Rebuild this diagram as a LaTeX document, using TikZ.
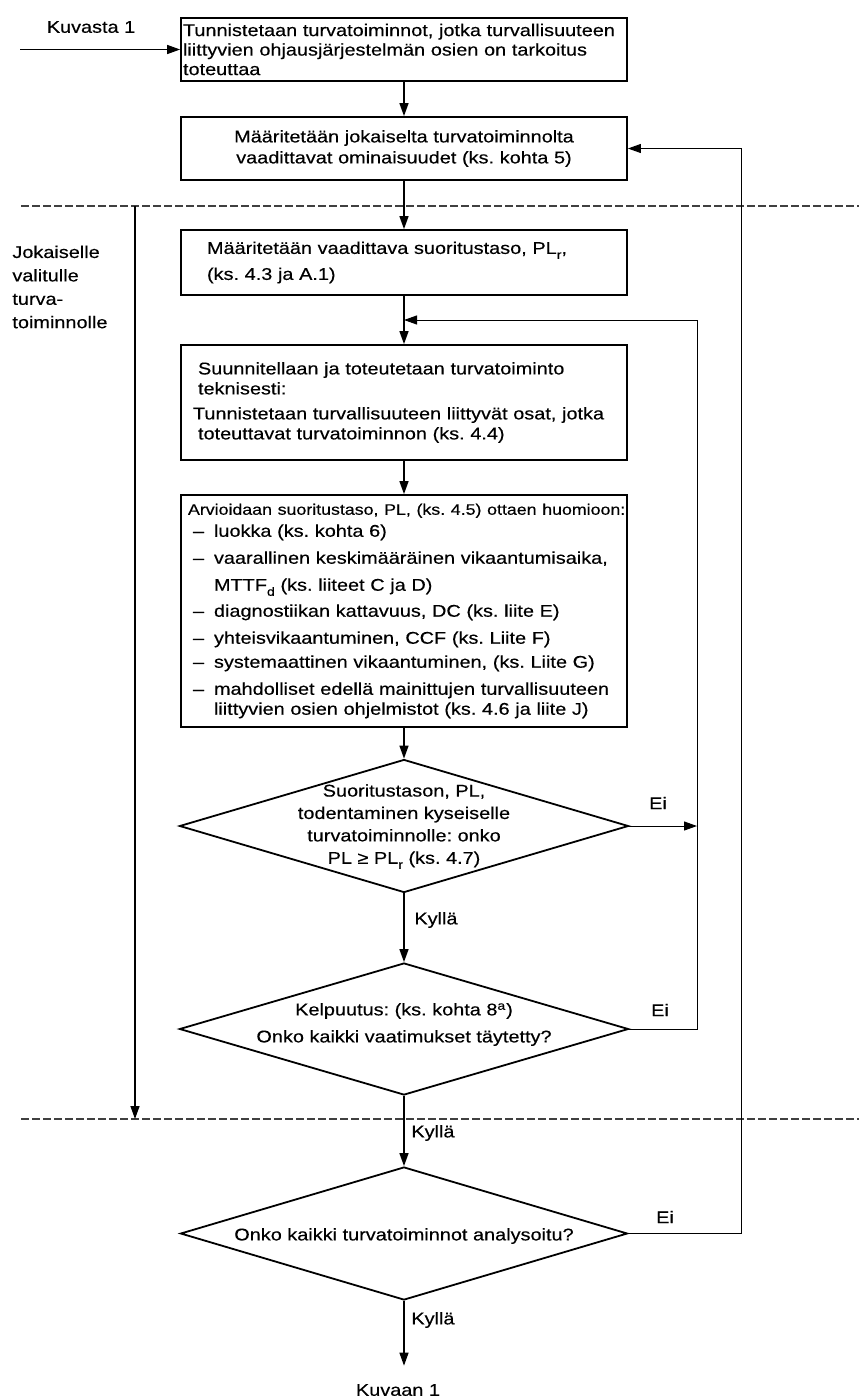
\documentclass[tikz,border=0pt]{standalone}
\usepackage{fontspec}
\setmainfont{Liberation Sans}[FakeStretch=1.17, FakeBold=0.35]
\usetikzlibrary{arrows.meta,shapes.geometric}

% small lowered index (PL_r, MTTF_d)
\newcommand{\subidx}[1]{\raisebox{-2.5pt}{\fontsize{6}{6}\selectfont #1}}
% dash bullet used in the evaluation box
\newcommand{\dashitem}{\hspace*{3.5pt}\makebox[10.5pt][l]{–}}

\tikzset{
  x=0.5pt, y=-0.5pt,
  box/.style={draw, line width=0.9pt, rectangle, inner ysep=0pt,
              font=\fontsize{8.5}{10}\selectfont},
  dia/.style={draw, line width=0.9pt, shape=diamond, inner sep=0pt},
  lbl/.style={inner sep=0pt, font=\fontsize{8.5}{10}\selectfont},
  link/.style={line width=0.7pt, -{Triangle[length=6.5pt,width=4.5pt]}},
  fb/.style={line width=0.5pt, -{Triangle[length=6.5pt,width=4.5pt]}},
  sep/.style={line width=0.6pt, draw=black!75, dash pattern=on 4pt off 1.5pt},
}

\begin{document}
\frenchspacing
\begin{tikzpicture}
\useasboundingbox (0,0) rectangle (859,1398);

% ---- process boxes ----
\node[box, text width=221pt, inner xsep=1pt, minimum height=31.5pt, align=left,
      font=\fontsize{8.5}{9.75}\selectfont] (b1) at (404,49.5)
  {Tunnistetaan turvatoiminnot, jotka turvallisuuteen\\
   liittyvien ohjausjärjestelmän osien on tarkoitus\\
   toteuttaa};

\node[box, text width=219pt, inner xsep=2pt, minimum height=31.5pt, align=center,
      font=\fontsize{8.5}{10.5}\selectfont] (b2) at (404,148.5)
  {Määritetään jokaiselta turvatoiminnolta\hspace*{8pt}\\
   vaadittavat ominaisuudet (ks. kohta 5)\hspace*{8pt}};

\node[box, text width=197pt, inner xsep=13pt, minimum height=32.5pt, align=left,
      font=\fontsize{8.5}{13}\selectfont] (b3) at (404,262.5)
  {Määritetään vaadittava suoritustaso, PL\subidx{r},\\
   (ks. 4.3 ja A.1)};

\node[box, text width=211pt, inner xsep=6pt, minimum height=57.5pt, align=left] (b4) at (404,402.5)
  {\hspace*{2.5pt}Suunnitellaan ja toteutetaan turvatoiminto\\
   \hspace*{2.5pt}teknisesti:\\[2.5pt]
   Tunnistetaan turvallisuuteen liittyvät osat, jotka\\
   \hspace*{2.5pt}toteuttavat turvatoiminnon (ks. 4.4)};

\node[box, text width=218pt, inner xsep=2.5pt, minimum height=116pt, align=left] (b5) at (404,611)
  {\hspace*{1pt}\mbox{\fontsize{7.6}{9}\selectfont Arvioidaan suoritustaso, PL, (ks. 4.5) ottaen huomioon:}\\[1pt]
   \dashitem luokka (ks. kohta 6)\\[3.5pt]
   \dashitem vaarallinen keskimääräinen vikaantumisaika,\\[3.5pt]
   \hspace*{14pt}MTTF\subidx{d} (ks. liiteet C ja D)\\[3pt]
   \dashitem diagnostiikan kattavuus, DC (ks. liite E)\\[3.5pt]
   \dashitem yhteisvikaantuminen, CCF (ks. Liite F)\\[2pt]
   \dashitem systemaattinen vikaantuminen, (ks. Liite G)\\[3.5pt]
   \dashitem mahdolliset edellä mainittujen turvallisuuteen\\
   \hspace*{14pt}liittyvien osien ohjelmistot (ks. 4.6 ja liite J)};

% ---- decisions ----
\node[dia, minimum width=224.5pt, minimum height=66.5pt] (d1) at (404,826) {};
\node[lbl, align=center, font=\fontsize{8.5}{11.2}\selectfont] (d1t) at (404,826.5)
  {Suoritustason, PL,\\ todentaminen kyseiselle\\ turvatoiminnolle: onko\\ PL ≥ PL\subidx{r} (ks. 4.7)};

\node[dia, minimum width=224.5pt, minimum height=66pt] (d2) at (404,1029) {};
\node[lbl, align=center, font=\fontsize{8.5}{13.5}\selectfont] (d2t) at (404,1024.5)
  {Kelpuutus: (ks. kohta 8\textsuperscript{a})\\ Onko kaikki vaatimukset täytetty?};

\node[dia, minimum width=223.5pt, minimum height=66.5pt] (d3) at (404,1233.5) {};
\node[lbl] (d3t) at (404,1236) {Onko kaikki turvatoiminnot analysoitu?};

% ---- free labels ----
\node[lbl] (src) at (91,27) {Kuvasta 1};
\node[lbl] (out) at (398,1390) {Kuvaan 1};
\node[lbl, anchor=west, align=left, font=\fontsize{8.5}{11.7}\selectfont] (scope) at (12,287)
  {Jokaiselle\\ valitulle\\ turva-\\ toiminnolle};
\node[lbl] (ei1) at (658,803) {Ei};
\node[lbl] (ei2) at (660,1010) {Ei};
\node[lbl] (ei3) at (665,1217) {Ei};
\node[lbl, anchor=west] (ky1) at (414,920) {Kyllä};
\node[lbl, anchor=west] (ky2) at (411,1133) {Kyllä};
\node[lbl, anchor=west] (ky3) at (411,1320) {Kyllä};

% ---- auxiliary points ----
\coordinate (inL) at (20,51);
\coordinate (jn) at (404,320);
\coordinate (fbI) at (697,320);
\coordinate (fbR) at (741,148.5);
\coordinate (lt) at (135,206);
\coordinate (lb) at (135,1119);
\coordinate (s1a) at (21,206);
\coordinate (s1b) at (859,206);
\coordinate (s2a) at (21,1119);
\coordinate (s2b) at (859,1119);

% ---- scope separators ----
\draw[sep] (s1a) -- (s1b);
\draw[sep] (s2a) -- (s2b);
\draw[link] (lt) -- (lb);

% ---- main flow ----
\draw[link] (inL |- b1.west) -- (b1.west);
\draw[link] (b1.south) -- (b2.north);
\draw[link] (b2.south) -- (b3.north);
\draw[link] (b3.south) -- (b4.north);
\draw[link] (b4.south) -- (b5.north);
\draw[link] (b5.south) -- (d1.north);
\draw[link] (d1.south) -- (d2.north);
\draw[link] (d2.south) -- (d3.north);
\draw[link, shorten >=9pt] (d3.south) -- (d3.south |- out.north);

% ---- feedback loops ----
\draw[fb] (d1.east) -- (d1.east -| fbI);
\draw[fb] (d2.east) -- (d2.east -| fbI) -- (fbI) -- (jn);
\draw[fb] (d3.east) -- (d3.east -| fbR) -- (fbR |- b2.east) -- (b2.east);
\end{tikzpicture}
\end{document}
